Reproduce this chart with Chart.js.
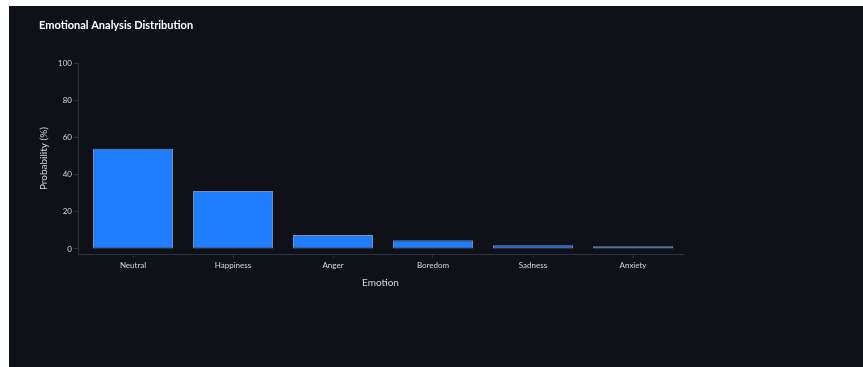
<!DOCTYPE html>
<html>
<head>
<meta charset="utf-8">
<script src="https://cdn.jsdelivr.net/npm/chart.js@4.4.1/dist/chart.umd.min.js"></script>
<style>
  body { margin: 0; background: #ffffff; }
  #panel { position: absolute; left: 9px; top: 6px; width: 854px; height: 361px; background: #0e1117; }
</style>
</head>
<body>
<div id="panel"><canvas id="chart" width="854" height="361"></canvas></div>
<script>
// emotion chart data
var emotions = ["Neutral", "Happiness", "Anger", "Boredom", "Sadness", "Anxiety"];
var probabilities = [54.0, 31.2, 7.5, 4.7, 2.0, 1.5];
var yTicks = [0, 20, 40, 60, 80, 100];

var textColor = "#d5d7dc";
var lineColor = "#2c3039";

var points = emotions.map(function (e, i) { return { x: i, y: probabilities[i] }; });

var ctx = document.getElementById("chart");
var myChart = new Chart(ctx, {
    type: "bar",
    data: {
        datasets: [{
            label: "Probability",
            data: points,
            backgroundColor: "#1f7dff",
            borderColor: "rgba(130,170,230,0.8)",
            borderWidth: 1,
            borderSkipped: false,
            barPercentage: 0.8,
            categoryPercentage: 1.0
        }]
    },
    options: {
        responsive: false,
        animation: false,
        layout: { padding: { left: 30, right: 180, top: 0, bottom: 78 } },
        plugins: {
            legend: { display: false },
            tooltip: { enabled: false },
            title: {
                display: true,
                text: "Emotional Analysis Distribution",
                align: "start",
                color: "#ffffff",
                font: { family: "Lato", size: 11, weight: "bold", lineHeight: 1.2 },
                padding: { top: 13, bottom: 31 }
            }
        },
        scales: {
            x: {
                type: "linear",
                min: -0.55,
                max: 5.5,
                offset: false,
                afterBuildTicks: function (axis) {
                    axis.ticks = emotions.map(function (e, i) { return { value: i }; });
                },
                afterFit: function (axis) { axis.height = 35; },
                ticks: {
                    color: textColor,
                    font: { family: "Lato", size: 8 },
                    padding: 3,
                    maxRotation: 0,
                    callback: function (v) { return emotions[v]; }
                },
                grid: { offset: false, drawOnChartArea: false, drawTicks: true, tickLength: 4, color: lineColor },
                border: { display: true, color: lineColor },
                title: {
                    display: true,
                    text: "Emotion",
                    color: textColor,
                    font: { family: "Lato", size: 10, lineHeight: 1.2 },
                    padding: { top: 0, bottom: 0 }
                }
            },
            y: {
                min: -2.7,
                max: 100,
                afterBuildTicks: function (axis) {
                    axis.ticks = yTicks.map(function (v) { return { value: v }; });
                },
                afterFit: function (axis) { axis.width = 39; },
                ticks: {
                    color: textColor,
                    font: { family: "Lato", size: 8 },
                    padding: 2
                },
                grid: { drawOnChartArea: false, drawTicks: true, tickLength: 4, color: lineColor },
                border: { display: true, color: lineColor },
                title: {
                    display: true,
                    text: "Probability (%)",
                    color: textColor,
                    font: { family: "Lato", size: 10, lineHeight: 1 },
                    padding: { top: 0, bottom: 0 }
                }
            }
        }
    }
});
</script>
</body>
</html>
